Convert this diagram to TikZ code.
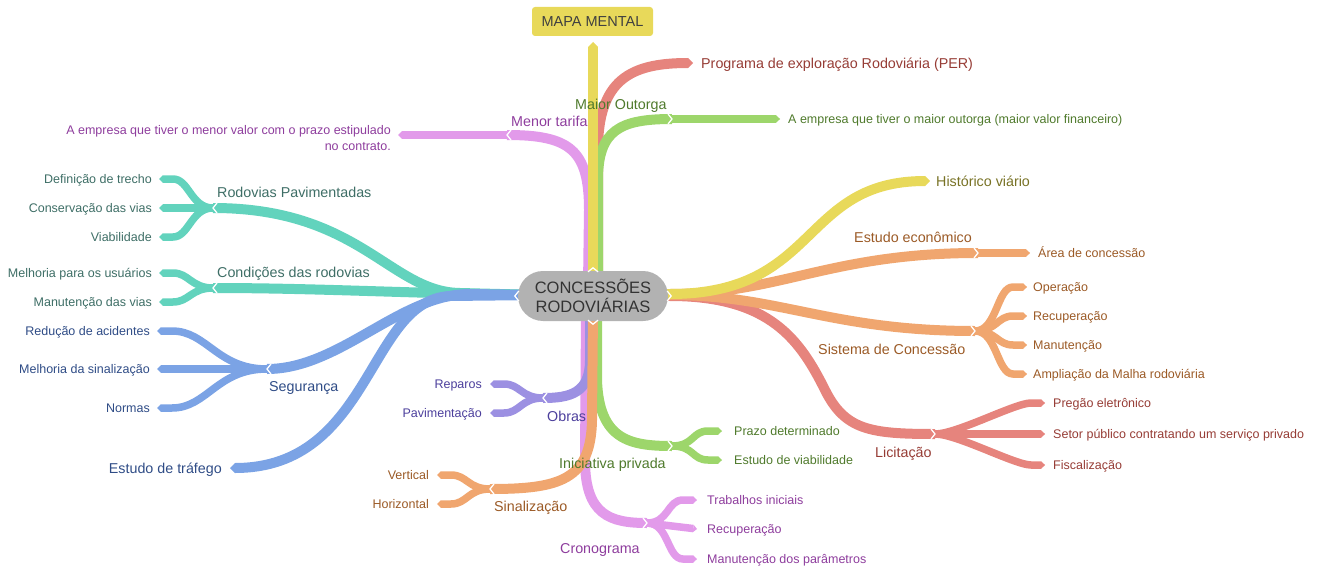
\documentclass[tikz,border=0pt]{standalone}
\usepackage{fontspec}
\setmainfont{Liberation Sans}
\usetikzlibrary{arrows.meta,calc}
\definecolor{cTeal}{HTML}{62D3BD}
\definecolor{tTeal}{HTML}{3E6E66}
\definecolor{cBlue}{HTML}{7BA3E5}
\definecolor{tBlue}{HTML}{2F4C86}
\definecolor{cYellow}{HTML}{E8D95A}
\definecolor{tYellow}{HTML}{787225}
\definecolor{cOrange}{HTML}{F0A66F}
\definecolor{tOrange}{HTML}{9B5A26}
\definecolor{cRed}{HTML}{E6847D}
\definecolor{tRed}{HTML}{963C35}
\definecolor{cGreen}{HTML}{9DD66B}
\definecolor{tGreen}{HTML}{4F7A2C}
\definecolor{cPink}{HTML}{E29AEA}
\definecolor{tPink}{HTML}{8E3D9D}
\definecolor{cPurple}{HTML}{9C90E2}
\definecolor{tPurple}{HTML}{4C3F9C}
\definecolor{cGray}{HTML}{B2B2B2}
\tikzset{
  br/.style={line width=10pt, line cap=butt},
  kid/.style={line width=7.5pt, line cap=butt},
  tipA/.style={-{Triangle[length=5pt,width=10pt,line width=0pt]}},
  tipB/.style={-{Triangle[length=3.8pt,width=7.5pt,line width=0pt]}},
  notch/.style={draw=white, line width=1.3pt},
  lab/.style={inner sep=0pt, yshift=-1.5pt, font=\fontsize{14.3}{16}\selectfont, text height=10.5pt, text depth=3pt},
  sub/.style={inner sep=0pt, yshift=-1.2pt, font=\fontsize{12.5}{14}\selectfont, text height=9pt, text depth=2.6pt},
}
\newcommand{\kidL}[3]{\draw[kid,#3,tipB] (#1) .. controls +(-22,0) and +(16,0) .. ($(#2)+(14,0)$) -- (#2);}
\newcommand{\kidR}[3]{\draw[kid,#3,tipB] (#1) .. controls +(22,0) and +(-16,0) .. ($(#2)+(-14,0)$) -- (#2);}
\newcommand{\notchL}[1]{\draw[notch] (#1) ++(4,-5) -- ++(-4,5) -- ++(4,5);}
\newcommand{\notchR}[1]{\draw[notch] (#1) ++(-4,-5) -- ++(4,5) -- ++(-4,5);}
\begin{document}
\begin{tikzpicture}[x=1pt,y=-1pt]
\useasboundingbox (0,0) rectangle (1319,567);
% anchor coordinates at the centre
\coordinate (cl) at (540,295);
\coordinate (cr) at (645,295);
\coordinate (ct) at (593,285);
\coordinate (ctl) at (588,285);
\coordinate (ctr) at (598,285);
\coordinate (cb) at (593,310);
\coordinate (cbl) at (590,310);
\coordinate (cbp) at (586,310);
\coordinate (cbr) at (597,310);
% junctions and ends
\coordinate (Jrp) at (213,208);
\coordinate (Erp1) at (159,179);
\coordinate (Erp2) at (159,208);
\coordinate (Erp3) at (159,237);
\coordinate (Jcr) at (213,288);
\coordinate (Ecr1) at (159,273);
\coordinate (Ecr2) at (159,302);
\coordinate (Jsg) at (267,369);
\coordinate (Esg1) at (157,331);
\coordinate (Esg2) at (157,369);
\coordinate (Esg3) at (157,408);
\coordinate (Eet) at (230,468);
\coordinate (Emm) at (593,42);
\coordinate (Jmt) at (507,135);
\coordinate (Emt) at (398,135);
\coordinate (Eper) at (693,63);
\coordinate (Jmo) at (672,119);
\coordinate (Emo) at (780,119);
\coordinate (Ehv) at (930,181);
\coordinate (Jee) at (978,253);
\coordinate (Eee) at (1030,253);
\coordinate (Jsc) at (975,331);
\coordinate (Esc1) at (1027,287);
\coordinate (Esc2) at (1027,316);
\coordinate (Esc3) at (1027,345);
\coordinate (Esc4) at (1027,374);
\coordinate (Jli) at (935,434);
\coordinate (Eli1) at (1045,403);
\coordinate (Eli2) at (1045,434);
\coordinate (Eli3) at (1045,465);
\coordinate (Job) at (543,398);
\coordinate (Eob1) at (490,384);
\coordinate (Eob2) at (490,413);
\coordinate (Jsi) at (490,489);
\coordinate (Esi1) at (437,475);
\coordinate (Esi2) at (437,504);
\coordinate (Jip) at (672,446);
\coordinate (Eip1) at (722,431);
\coordinate (Eip2) at (722,460);
\coordinate (Jcg) at (647,523);
\coordinate (Ecg1) at (697,500);
\coordinate (Ecg2) at (697,529);
\coordinate (Ecg3) at (697,559);

% ---------- left branches ----------
\draw[br,cTeal] (Jrp) .. controls (360,208) and (390,292) .. (460,293) -- (cl);
\draw[br,cTeal] (Jcr) .. controls (320,288) and (420,294) .. (cl);
\kidL{Jrp}{Erp1}{cTeal}
\draw[kid,cTeal,tipB] (Jrp) -- (Erp2);
\kidL{Jrp}{Erp3}{cTeal}
\kidL{Jcr}{Ecr1}{cTeal}
\kidL{Jcr}{Ecr2}{cTeal}
\draw[br,cBlue] (Jsg) .. controls (340,369) and (400,294) .. (470,294) -- (cl);
\draw[br,cBlue,tipA] (cl) -- (450,296) .. controls (368,300) and (372,468) .. (Eet);
\draw[kid,cBlue,tipB] (Jsg) .. controls +(-50,0) and +(35,0) .. ($(Esg1)+(15,0)$) -- (Esg1);
\draw[kid,cBlue,tipB] (Jsg) -- (Esg2);
\draw[kid,cBlue,tipB] (Jsg) .. controls +(-50,0) and +(35,0) .. ($(Esg3)+(15,0)$) -- (Esg3);

% ---------- top branches ----------
\draw[br,cPink] (ctl) -- (589,210) .. controls (589,150) and (570,135) .. (Jmt);
\draw[kid,cPink,tipB] (Jmt) -- (Emt);
\draw[br,cRed,tipA] (ctr) -- (598,150) .. controls (598,80) and (630,63) .. (Eper);
\draw[br,cGreen] (ctr) -- (598,180) .. controls (598,130) and (620,119) .. (Jmo);
\draw[kid,cGreen,tipB] (Jmo) -- (Emo);
\draw[br,cYellow,tipA] (ct) -- (Emm);

% ---------- right branches ----------
\draw[br,cRed] (cr) -- (670,296) .. controls (770,296) and (800,340) .. (825,390) .. controls (845,430) and (870,434) .. (Jli);
\kidR{Jli}{Eli1}{cRed}
\draw[kid,cRed,tipB] (Jli) -- (Eli2);
\kidR{Jli}{Eli3}{cRed}
\draw[br,cOrange] (cr) -- (670,295) .. controls (780,295) and (830,331) .. (Jsc);
\kidR{Jsc}{Esc1}{cOrange}
\kidR{Jsc}{Esc2}{cOrange}
\kidR{Jsc}{Esc3}{cOrange}
\kidR{Jsc}{Esc4}{cOrange}
\draw[br,cOrange] (cr) -- (670,294) .. controls (780,294) and (830,253) .. (Jee);
\draw[kid,cOrange,tipB] (Jee) -- (Eee);
\draw[br,cYellow,tipA] (cr) -- (670,294) .. controls (820,294) and (800,181) .. (Ehv);

% ---------- bottom branches ----------
\draw[br,cPink] (cbp) -- (585,460) .. controls (585,515) and (610,523) .. (Jcg);
\kidR{Jcg}{Ecg1}{cPink}
\draw[kid,cPink,tipB] (Jcg) -- (Ecg2);
\kidR{Jcg}{Ecg3}{cPink}
\draw[br,cGreen] (cbr) -- (597,380) .. controls (599,440) and (630,446) .. (Jip);
\kidR{Jip}{Eip1}{cGreen}
\kidR{Jip}{Eip2}{cGreen}
\draw[br,cPurple] (cbl) -- (590,360) .. controls (590,393) and (570,398) .. (Job);
\kidL{Job}{Eob1}{cPurple}
\kidL{Job}{Eob2}{cPurple}
\draw[br,cOrange] (cb) -- (592,420) .. controls (591,480) and (560,489) .. (Jsi);
\kidL{Jsi}{Esi1}{cOrange}
\kidL{Jsi}{Esi2}{cOrange}

% ---------- notches ----------
\notchL{Jrp}\notchL{Jcr}\notchL{Jsg}\notchL{Jmt}\notchL{Job}\notchL{Jsi}
\notchR{Jmo}\notchR{Jee}\notchR{Jsc}\notchR{Jli}\notchR{Jip}\notchR{Jcg}

% ---------- centre and title ----------
\node[fill=cGray, rounded corners=25pt, minimum width=150pt, minimum height=50pt, inner sep=0pt,
  align=center, text=black!80, font=\fontsize{16.5}{19}\selectfont] (C) at (593,296) {CONCESSÕES\\RODOVIÁRIAS};
\draw[notch] (C.west) ++(1,-5) -- ++(-4,5) -- ++(4,5);
\draw[notch] (C.east) ++(-1,-5) -- ++(4,5) -- ++(-4,5);
\draw[notch] (C.south) ++(-5,-1) -- ++(5,4) -- ++(5,-4);
\draw[notch] (C.north) ++(-5,1) -- ++(5,-4) -- ++(5,4);
\node[fill=cYellow, rounded corners=3pt, minimum width=121pt, minimum height=29pt, inner sep=0pt,
  text=black!75, font=\fontsize{14.5}{16}\selectfont] (MM) at (592.5,21.5) {MAPA MENTAL};

% ---------- labels: left ----------
\node[lab,text=tTeal,anchor=west] (Lrp) at (217,192) {Rodovias Pavimentadas};
\node[sub,text=tTeal,anchor=east] (Lrp1) at (152,179) {Definição de trecho};
\node[sub,text=tTeal,anchor=east] (Lrp2) at (152,208) {Conservação das vias};
\node[sub,text=tTeal,anchor=east] (Lrp3) at (152,237) {Viabilidade};
\node[lab,text=tTeal,anchor=west] (Lcr) at (217,272) {Condições das rodovias};
\node[sub,text=tTeal,anchor=east] (Lcr1) at (152,273) {Melhoria para os usuários};
\node[sub,text=tTeal,anchor=east] (Lcr2) at (152,302) {Manutenção das vias};
\node[lab,text=tBlue,anchor=west] (Lsg) at (269,386) {Segurança};
\node[sub,text=tBlue,anchor=east] (Lsg1) at (150,331) {Redução de acidentes};
\node[sub,text=tBlue,anchor=east] (Lsg2) at (150,369) {Melhoria da sinalização};
\node[sub,text=tBlue,anchor=east] (Lsg3) at (150,408) {Normas};
\node[lab,text=tBlue,anchor=east] (Let) at (222,468) {Estudo de tráfego};

% ---------- labels: top ----------
\node[lab,text=tPink,anchor=west] (Lmt) at (511,121) {Menor tarifa};
\node[inner sep=0pt,text=tPink,anchor=east,align=right,yshift=-1.2pt,font=\fontsize{12.5}{16}\selectfont] (Lmt1) at (391,137)
  {A empresa que tiver o menor valor com o prazo estipulado\\no contrato.};
\node[lab,text=tRed,anchor=west] (Lper) at (701,63) {Programa de exploração Rodoviária (PER)};
\node[lab,text=tGreen,anchor=west] (Lmo) at (575,104) {Maior Outorga};
\node[sub,text=tGreen,anchor=west] (Lmo1) at (788,119) {A empresa que tiver o maior outorga (maior valor financeiro)};

% ---------- labels: right ----------
\node[lab,text=tYellow,anchor=west] (Lhv) at (936,181) {Histórico viário};
\node[lab,text=tOrange,anchor=west] (Lee) at (854,237) {Estudo econômico};
\node[sub,text=tOrange,anchor=west] (Lee1) at (1038,253) {Área de concessão};
\node[lab,text=tOrange,anchor=west] (Lsc) at (818,349) {Sistema de Concessão};
\node[sub,text=tOrange,anchor=west] (Lsc1) at (1033,287) {Operação};
\node[sub,text=tOrange,anchor=west] (Lsc2) at (1033,316) {Recuperação};
\node[sub,text=tOrange,anchor=west] (Lsc3) at (1033,345) {Manutenção};
\node[sub,text=tOrange,anchor=west] (Lsc4) at (1033,374) {Ampliação da Malha rodoviária};
\node[lab,text=tRed,anchor=west] (Lli) at (875,452) {Licitação};
\node[sub,text=tRed,anchor=west] (Lli1) at (1053,403) {Pregão eletrônico};
\node[sub,text=tRed,anchor=west] (Lli2) at (1053,434) {Setor público contratando um serviço privado};
\node[sub,text=tRed,anchor=west] (Lli3) at (1053,465) {Fiscalização};

% ---------- labels: bottom ----------
\node[lab,text=tPurple,anchor=west] (Lob) at (547,416) {Obras};
\node[sub,text=tPurple,anchor=east] (Lob1) at (482,384) {Reparos};
\node[sub,text=tPurple,anchor=east] (Lob2) at (482,413) {Pavimentação};
\node[lab,text=tOrange,anchor=west] (Lsi) at (494,506) {Sinalização};
\node[sub,text=tOrange,anchor=east] (Lsi1) at (429,475) {Vertical};
\node[sub,text=tOrange,anchor=east] (Lsi2) at (429,504) {Horizontal};
\node[lab,text=tGreen,anchor=west] (Lip) at (559,463) {Iniciativa privada};
\node[sub,text=tGreen,anchor=west] (Lip1) at (734,431) {Prazo determinado};
\node[sub,text=tGreen,anchor=west] (Lip2) at (734,460) {Estudo de viabilidade};
\node[lab,text=tPink,anchor=west] (Lcg) at (560,548) {Cronograma};
\node[sub,text=tPink,anchor=west] (Lcg1) at (707,500) {Trabalhos iniciais};
\node[sub,text=tPink,anchor=west] (Lcg2) at (707,529) {Recuperação};
\node[sub,text=tPink,anchor=west] (Lcg3) at (707,559) {Manutenção dos parâmetros};
\end{tikzpicture}
\end{document}
